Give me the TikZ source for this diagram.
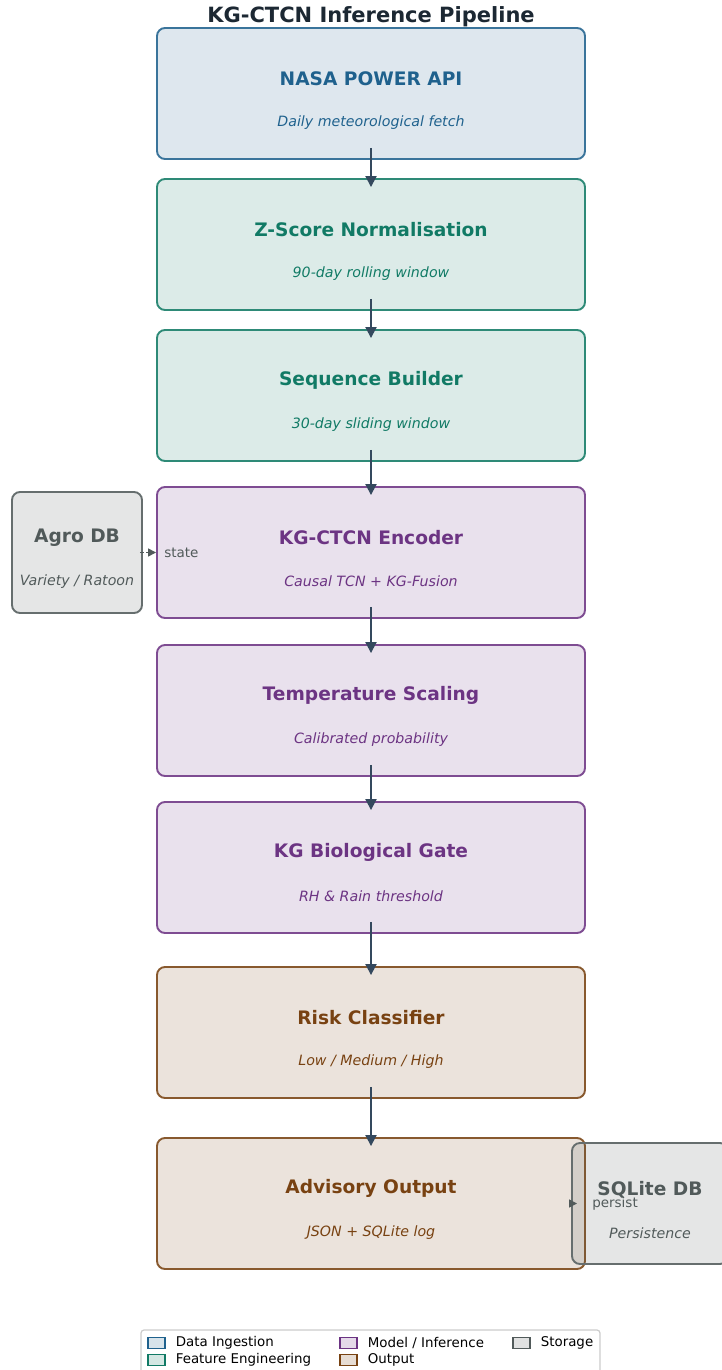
\documentclass[tikz,border=0pt]{standalone}
\usepackage{fontspec}
\setmainfont{DejaVu Sans}
\usetikzlibrary{positioning,arrows.meta,calc}

\definecolor{ingestc}{HTML}{1F618D}
\definecolor{featc}{HTML}{117A65}
\definecolor{modelc}{HTML}{6C3483}
\definecolor{outc}{HTML}{784212}
\definecolor{storec}{HTML}{515A5A}
\definecolor{flowc}{HTML}{34495E}
\definecolor{titlec}{HTML}{1C2833}

\tikzset{
  stage/.style={
     draw=#1!88,
     fill=#1,
     fill opacity=0.15,
     line width=1.9pt,
     rounded corners=8pt,
     inner sep=0pt,
     minimum width=428pt,
     minimum height=131pt},
  store/.style={stage=storec, minimum width=#1, minimum height=121pt},
  stage title/.style={text=#1, inner sep=0pt, font=\fontsize{18.6}{22}\selectfont\bfseries},
  stage sub/.style={text=#1, inner sep=0pt, font=\fontsize{14.2}{17}\selectfont\itshape},
  flow/.style={draw=flowc, line width=1.9pt, -{Triangle[length=11pt,width=11pt]}},
  side flow/.style={draw=storec, line width=1.4pt, dashed, dash pattern=on 4pt off 2.5pt,
     -{Triangle[length=8pt,width=8pt]}},
  side label/.style={text=storec, inner sep=0pt, anchor=west, font=\fontsize{13.5}{16}\selectfont},
  leg patch/.style={draw=#1, fill=#1!18, line width=1.2pt, minimum width=17pt, minimum height=11pt, inner sep=0pt},
  leg text/.style={anchor=west, inner sep=0pt, font=\fontsize{13.4}{16}\selectfont}
}

\begin{document}
\begin{tikzpicture}[x=1pt, y=-1pt]
  \useasboundingbox (0,0) rectangle (721,1370);

  % Title
  \node[text=titlec, font=\fontsize{21}{24}\selectfont\bfseries] (title) at (371,17) {KG-CTCN Inference Pipeline};

  % Pipeline stages
  \foreach \n/\y/\c/\t/\s in {
      api/93.5/ingestc/{NASA POWER API}/{Daily meteorological fetch},
      zscore/244.5/featc/{Z-Score Normalisation}/{90-day rolling window},
      seq/395.5/featc/{Sequence Builder}/{30-day sliding window},
      enc/552.5/modelc/{KG-CTCN Encoder}/{Causal TCN + KG-Fusion},
      temp/710.5/modelc/{Temperature Scaling}/{Calibrated probability},
      gate/867.5/modelc/{KG Biological Gate}/{RH \& Rain threshold},
      risk/1032.5/outc/{Risk Classifier}/{Low / Medium / High},
      adv/1203.5/outc/{Advisory Output}/{JSON + SQLite log}} {
    \node[stage=\c] (\n) at (371,\y) {};
    \node[stage title=\c] (\n-t) at ([yshift=15pt]\n.center) {\t};
    \node[stage sub=\c] (\n-s) at ([yshift=-29pt]\n.center) {\s};
  }

  % Side stores
  \node[store=130pt] (agro) at (77,552.5) {};
  \node[stage title=storec] (agro-t) at ([yshift=15pt]agro.center) {Agro DB};
  \node[stage sub=storec] (agro-s) at ([yshift=-29.5pt]agro.center) {Variety / Ratoon};

  \node[store=156pt] (sql) at (650,1203.5) {};
  \node[stage title=storec] (sql-t) at ([yshift=14pt]sql.center) {SQLite DB};
  \node[stage sub=storec] (sql-s) at ([yshift=-29.5pt]sql.center) {Persistence};

  % Main flow
  \foreach \a/\b in {api/zscore, zscore/seq, seq/enc, enc/temp, temp/gate, gate/risk, risk/adv}
    \draw[flow] ([yshift=12pt]\a.south) -- ([yshift=-9pt]\b.north);

  % Side flows
  \draw[side flow] ([xshift=-3pt]agro.east) -- (enc.west);
  \node[side label] (state) at ([xshift=8pt]enc.west) {state};
  \draw[side flow] ([xshift=-2pt]sql.west) -- ([xshift=6pt]sql.west);
  \node[side label] (persist) at ([xshift=21pt]sql.west) {persist};

  % Legend
  \node[draw=black!20, fill=white, line width=1.2pt, rounded corners=3pt, minimum width=459pt,
        minimum height=46pt, inner sep=0pt] (leg) at (370.5,1353) {};
  \foreach \c/\t/\x/\y in {ingestc/{Data Ingestion}/156.5/1343, featc/{Feature Engineering}/156.5/1360,
      modelc/{Model / Inference}/348.5/1343, outc/{Output}/348.5/1360, storec/{Storage}/521.5/1343} {
    \node[leg patch=\c] (leg-\c) at (\x,\y) {};
    \node[leg text] (leg-\c-t) at ([xshift=10pt]leg-\c.east) {\t};
  }
\end{tikzpicture}
\end{document}
